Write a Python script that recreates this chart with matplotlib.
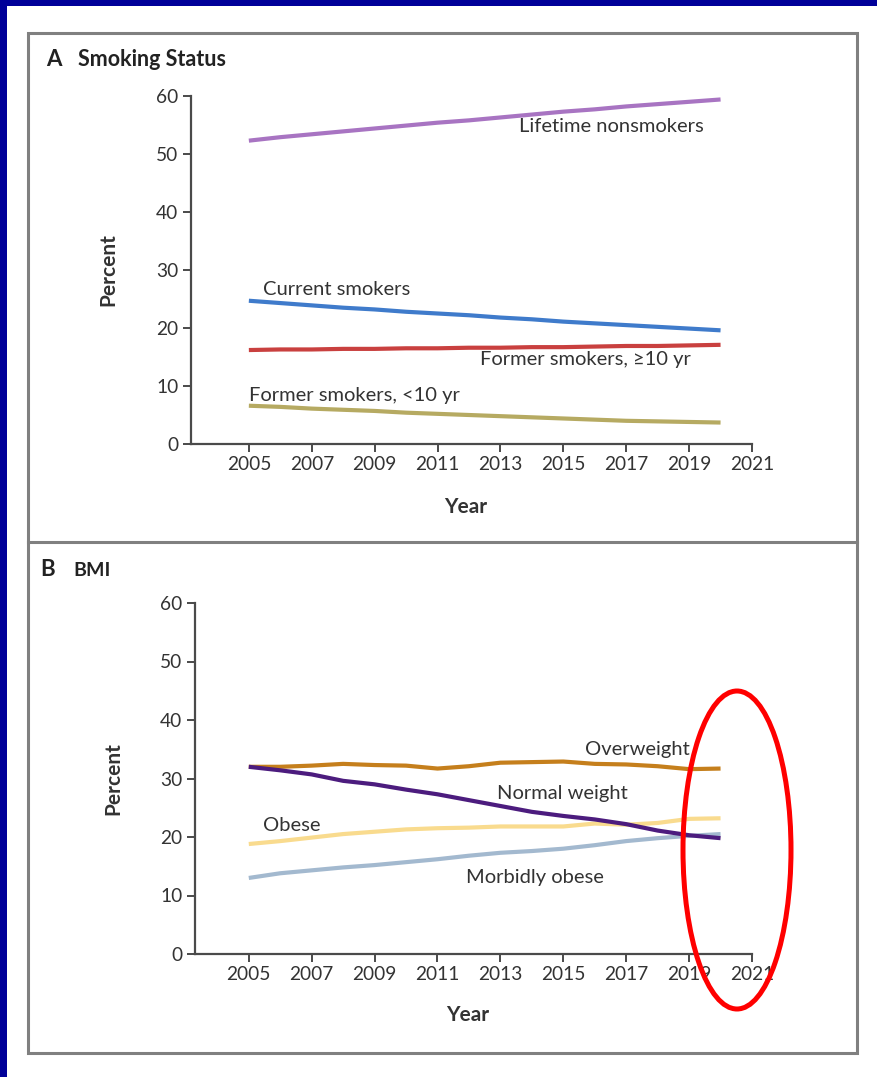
import matplotlib
matplotlib.use("Agg")
import matplotlib.pyplot as plt
from matplotlib.patches import Rectangle, Ellipse
from matplotlib.lines import Line2D

# ---- data -------------------------------------------------------------
years = list(range(2005, 2021))

lifetime_nonsmokers = [52.3, 52.9, 53.4, 53.9, 54.4, 54.9, 55.4, 55.8,
                       56.3, 56.8, 57.3, 57.7, 58.2, 58.6, 59.0, 59.4]
current_smokers = [24.7, 24.3, 23.9, 23.5, 23.2, 22.8, 22.5, 22.2,
                   21.8, 21.5, 21.1, 20.8, 20.5, 20.2, 19.9, 19.6]
former_10plus = [16.2, 16.3, 16.3, 16.4, 16.4, 16.5, 16.5, 16.6,
                 16.6, 16.7, 16.7, 16.8, 16.9, 16.9, 17.0, 17.1]
former_under10 = [6.6, 6.4, 6.1, 5.9, 5.7, 5.4, 5.2, 5.0,
                  4.8, 4.6, 4.4, 4.2, 4.0, 3.9, 3.8, 3.7]

overweight = [32.0, 32.0, 32.2, 32.5, 32.3, 32.2, 31.7, 32.1,
              32.7, 32.8, 32.9, 32.5, 32.4, 32.1, 31.6, 31.7]
normal_weight = [32.0, 31.4, 30.7, 29.6, 29.0, 28.1, 27.3, 26.3,
                 25.3, 24.3, 23.6, 23.0, 22.2, 21.1, 20.3, 19.8]
obese = [18.8, 19.3, 19.9, 20.5, 20.9, 21.3, 21.5, 21.6,
         21.8, 21.8, 21.8, 22.3, 22.1, 22.4, 23.1, 23.2]
morbidly_obese = [13.0, 13.8, 14.3, 14.8, 15.2, 15.7, 16.2, 16.8,
                  17.3, 17.6, 18.0, 18.6, 19.3, 19.8, 20.2, 20.5]

x_ticks = list(range(2005, 2022, 2))
y_ticks = list(range(0, 61, 10))

# ---- styling ----------------------------------------------------------
plt.rcParams['font.family'] = ['Lato', 'DejaVu Sans']
TXT = '#333333'
AX = '#4a4a4a'

W, H = 877, 1077
fig = plt.figure(figsize=(W / 100, H / 100), dpi=100)
fig.patch.set_facecolor('white')


def fx(px):
    return px / W


def fy(py):
    return 1 - py / H


def setup_axes(ax, xmin, ylab_x, xlab_y):
    ax.set_xlim(xmin, 2021)
    ax.set_ylim(0, 60)
    ax.set_xticks(x_ticks)
    ax.set_yticks(y_ticks)
    for s in ('top', 'right'):
        ax.spines[s].set_visible(False)
    for s in ('left', 'bottom'):
        ax.spines[s].set_color(AX)
        ax.spines[s].set_linewidth(1.6)
    ax.tick_params(direction='out', length=6, width=1.4, color=AX,
                   labelsize=13.8, labelcolor=TXT, pad=3)
    ax.set_ylabel('Percent', fontsize=15, fontweight='bold', color=TXT,
                  va='center')
    ax.set_xlabel('Year', fontsize=15, fontweight='bold', color=TXT,
                  va='center')
    ax.yaxis.set_label_coords(ylab_x, 0.5)
    ax.xaxis.set_label_coords(0.49, xlab_y)
    ax.patch.set_alpha(0)


LW = 3.0

# Panel A: smoking status
axA = fig.add_axes([fx(191), fy(444), fx(752) - fx(191), fy(96) - fy(444)])
setup_axes(axA, 2003.16, -0.148, -0.181)
axA.plot(years, lifetime_nonsmokers, color='#a874c2', lw=LW, solid_capstyle='butt')
axA.plot(years, current_smokers, color='#3f7bcb', lw=LW, solid_capstyle='butt')
axA.plot(years, former_10plus, color='#c9403f', lw=LW, solid_capstyle='butt')
axA.plot(years, former_under10, color='#b6aa62', lw=LW, solid_capstyle='butt')

lab = dict(fontsize=14.5, color=TXT, va='center', ha='left')
axA.text(2013.6, 54.7, 'Lifetime nonsmokers', **lab)
axA.text(2005.45, 26.7, 'Current smokers', **lab)
axA.text(2012.35, 14.5, 'Former smokers, \u226510 yr', **lab)
axA.text(2005.0, 8.4, 'Former smokers, <10 yr', **lab)

# Panel B: BMI
axB = fig.add_axes([fx(195), fy(954), fx(752) - fx(195), fy(603) - fy(954)])
setup_axes(axB, 2003.29, -0.147, -0.174)
axB.plot(years, morbidly_obese, color='#a3b9cf', lw=LW, solid_capstyle='butt')
axB.plot(years, obese, color='#f9db8e', lw=LW, solid_capstyle='butt')
axB.plot(years, overweight, color='#c57f1c', lw=LW, solid_capstyle='butt')
axB.plot(years, normal_weight, color='#4c1c7e', lw=LW, solid_capstyle='butt')

axB.text(2015.7, 35.0, 'Overweight', **lab)
axB.text(2012.9, 27.5, 'Normal weight', **lab)
axB.text(2005.45, 21.9, 'Obese', **lab)
axB.text(2011.9, 13.0, 'Morbidly obese', **lab)

# Panel titles
fig.text(fx(46), fy(60), 'A', fontsize=16, fontweight='bold', color='#222222',
         va='center', ha='left')
fig.text(fx(78), fy(60), 'Smoking Status', fontsize=15.5, fontweight='bold',
         color='#222222', va='center', ha='left')
fig.text(fx(40), fy(569), 'B', fontsize=16, fontweight='bold', color='#222222',
         va='center', ha='left')
fig.text(fx(73), fy(570), 'BMI', fontsize=14, fontweight='bold',
         color='#222222', va='center', ha='left')

# Frame around both panels and divider
fig.add_artist(Rectangle((fx(28), fy(1053)), fx(857) - fx(28), fy(33) - fy(1053),
                         transform=fig.transFigure, fill=False,
                         edgecolor='#808080', lw=2.2, zorder=0))
fig.add_artist(Line2D([fx(28), fx(857)], [fy(542), fy(542)],
                      transform=fig.transFigure, color='#808080', lw=2.2))

# Dark blue border along top and left edges
fig.add_artist(Rectangle((0, fy(6)), 1, fy(0) - fy(6), transform=fig.transFigure,
                         facecolor='#000099', edgecolor='none'))
fig.add_artist(Rectangle((0, 0), fx(7), 1, transform=fig.transFigure,
                         facecolor='#000099', edgecolor='none'))

# Red highlight ellipse around the latest years of panel B
fig.add_artist(Ellipse((fx(737), fy(850)), fx(108), 318 / H,
                       transform=fig.transFigure, fill=False,
                       edgecolor='#ff0000', lw=3.6, zorder=10))

fig.savefig('out.png', dpi=100, facecolor='white')
